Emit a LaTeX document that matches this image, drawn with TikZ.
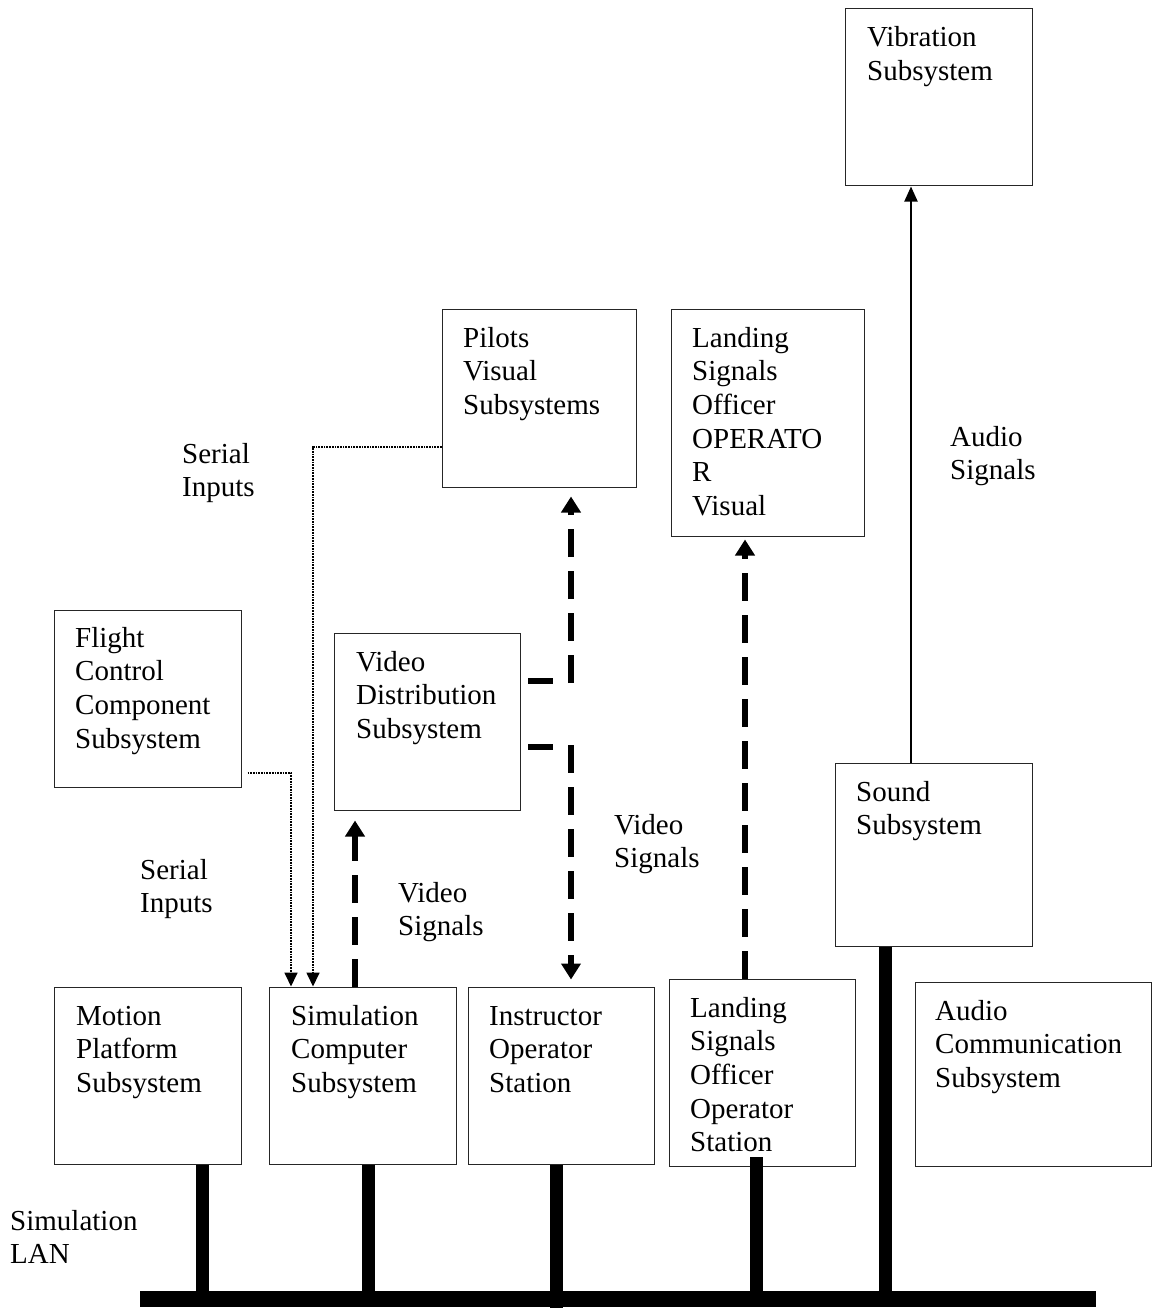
\documentclass[tikz,border=0pt]{standalone}
\usepackage{fontspec}
\setmainfont{Liberation Serif}
\usetikzlibrary{arrows.meta,fit}
\newcommand{\tl}[1]{\begin{tabular}[t]{@{}l@{}}#1\end{tabular}}
\begin{document}
\begin{tikzpicture}[x=1pt,y=-1pt,
  box/.style={draw=black!85, line width=1pt, inner sep=0pt},
  txt/.style={anchor=base west, inner sep=0pt, font=\fontsize{29}{33.7}\selectfont},
  sig/.style={line width=6pt, dash pattern=on 28pt off 14pt, -{Triangle[length=16pt,width=19pt]}},
  stub/.style={line width=6pt},
  ser/.style={line width=1.7pt, densely dotted, -{Triangle[length=14pt,width=13pt]}},
  aud/.style={line width=2pt, -{Triangle[length=15pt,width=13pt]}},
  lanline/.style={line width=13pt}]
\useasboundingbox (0,0) rectangle (1151,1308);

% boxes
\node[box, fit={(845,9)(1032,186)}] (vib) {};
\node[box, fit={(442,309)(636,487)}] (pil) {};
\node[box, fit={(671,309)(864,536)}] (lsov) {};
\node[box, fit={(54,610)(241,787)}] (fcc) {};
\node[box, fit={(334,633)(520,810)}] (vd) {};
\node[box, fit={(835,763)(1032,946)}] (snd) {};
\node[box, fit={(54,987)(241,1164)}] (mps) {};
\node[box, fit={(269,987)(456,1164)}] (sim) {};
\node[box, fit={(468,987)(654,1164)}] (ios) {};
\node[box, fit={(669,979)(855,1166)}] (lsoo) {};
\node[box, fit={(915,982)(1151.5,1166)}] (acs) {};
\node[fill=black, inner sep=0pt, fit={(140,1291)(1096,1307)}] (lan) {};

% box texts
\node[txt] (vibt) at (867,47) {\tl{Vibration\\Subsystem}};
\node[txt] (pilt) at (463,347) {\tl{Pilots\\Visual\\Subsystems}};
\node[txt] (lsovt) at (692,347) {\tl{Landing\\Signals\\Officer\\OPERATO\\R\\Visual}};
\node[txt] (fcct) at (75,647) {\tl{Flight\\Control\\Component\\Subsystem}};
\node[txt] (vdt) at (356,671) {\tl{Video\\Distribution\\Subsystem}};
\node[txt] (sndt) at (856,801) {\tl{Sound\\Subsystem}};
\node[txt] (mpst) at (76,1025) {\tl{Motion\\Platform\\Subsystem}};
\node[txt] (simt) at (291,1025) {\tl{Simulation\\Computer\\Subsystem}};
\node[txt] (iost) at (489,1025) {\tl{Instructor\\Operator\\Station}};
\node[txt] (lsoot) at (690,1017) {\tl{Landing\\Signals\\Officer\\Operator\\Station}};
\node[txt] (acst) at (935,1020) {\tl{Audio\\Communication\\Subsystem}};

% free labels
\node[txt] (ser1) at (182,463) {\tl{Serial\\Inputs}};
\node[txt] (ser2) at (140,879) {\tl{Serial\\Inputs}};
\node[txt] (vs1) at (398,902) {\tl{Video\\Signals}};
\node[txt] (vs2) at (614,834) {\tl{Video\\Signals}};
\node[txt] (as1) at (950,446) {\tl{Audio\\Signals}};
\node[txt] (lant) at (10,1230) {\tl{Simulation\\LAN}};

% serial inputs (dotted)
\draw[ser] ([xshift=6pt]fcc.east |- 0,773) -| (sim.north -| 291,0);
\draw[ser] (pil.west |- 0,447) -| (sim.north -| 313,0);

% video signals (thick dashed)
\draw[sig, shorten >=10pt] (sim.north -| 355,0) -- (vd.south -| 355,0);
\coordinate (vup) at (571,683);
\coordinate (vdn) at (571,745);
\draw[sig, shorten >=9pt] (vup) -- (pil.south -| vup);
\draw[sig, shorten >=7pt] (vdn) -- (ios.north -| vdn);
\draw[stub] (528,681) -- (553,681);
\draw[stub] (528,747) -- (553,747);
\draw[sig, shorten >=3pt] (lsoo.north -| 745,0) -- (lsov.south -| 745,0);

% audio signals
\draw[aud] (snd.north -| 911,0) -- (vib.south -| 911,0);

% LAN drops
\draw[lanline] (mps.south -| 202,0) -- (lan.north -| 202,0);
\draw[lanline] (sim.south -| 368,0) -- (lan.north -| 368,0);
\draw[lanline] (ios.south -| 556,0) -- (556,1308);
\draw[lanline] (756,1157) -- (lan.north -| 756,0);
\draw[lanline] (snd.south -| 885,0) -- (lan.north -| 885,0);
\end{tikzpicture}
\end{document}
